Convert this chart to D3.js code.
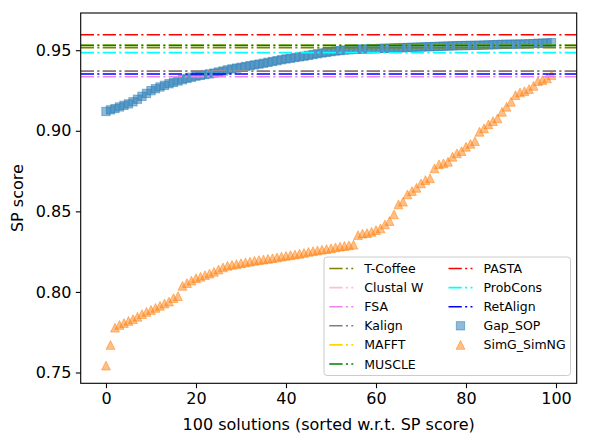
<!DOCTYPE html>
<html>
<head>
<meta charset="utf-8">
<script src="https://cdn.jsdelivr.net/npm/d3@7"></script>
<style>
  html, body { margin: 0; padding: 0; background: #fff; }
  svg { display: block; font-family: "DejaVu Sans", sans-serif; }
</style>
</head>
<body>
<svg id="chart" width="589" height="444"></svg>
<script>
// ---------------- data ----------------
const gapSOP = [
  0.9120, 0.9130, 0.9138, 0.9148, 0.9158, 0.9167, 0.9180, 0.9196, 0.9214, 0.9232,
  0.9249, 0.9261, 0.9272, 0.9282, 0.9292, 0.9300, 0.9309, 0.9317, 0.9325, 0.9332,
  0.9339, 0.9344, 0.9349, 0.9353, 0.9358, 0.9365, 0.9371, 0.9378, 0.9384, 0.9389,
  0.9394, 0.9399, 0.9404, 0.9409, 0.9414, 0.9419, 0.9425, 0.9430, 0.9435, 0.9441,
  0.9446, 0.9450, 0.9455, 0.9459, 0.9463, 0.9468, 0.9473, 0.9478, 0.9483, 0.9487,
  0.9491, 0.9495, 0.9498, 0.9501, 0.9503, 0.9505, 0.9506, 0.9507, 0.9508, 0.9509,
  0.9510, 0.9511, 0.9512, 0.9513, 0.9514, 0.9515, 0.9516, 0.9517, 0.9518, 0.9519,
  0.9520, 0.9521, 0.9522, 0.9523, 0.9524, 0.9525, 0.9526, 0.9527, 0.9528, 0.9529,
  0.9529, 0.9530, 0.9530, 0.9531, 0.9532, 0.9533, 0.9534, 0.9535, 0.9536, 0.9537,
  0.9537, 0.9538, 0.9538, 0.9539, 0.9540, 0.9541, 0.9543, 0.9544, 0.9545, 0.9547
];
const simG = [
  0.7543, 0.7671, 0.7778, 0.7795, 0.7807, 0.7820, 0.7831, 0.7846, 0.7862, 0.7876,
  0.7888, 0.7901, 0.7914, 0.7928, 0.7940, 0.7962, 0.7974, 0.8038, 0.8055, 0.8070,
  0.8085, 0.8094, 0.8104, 0.8114, 0.8125, 0.8139, 0.8152, 0.8162, 0.8168, 0.8172,
  0.8178, 0.8183, 0.8188, 0.8193, 0.8198, 0.8201, 0.8205, 0.8209, 0.8214, 0.8219,
  0.8224, 0.8228, 0.8232, 0.8237, 0.8242, 0.8248, 0.8253, 0.8257, 0.8262, 0.8266,
  0.8271, 0.8276, 0.8281, 0.8285, 0.8289, 0.8293, 0.8352, 0.8362, 0.8365, 0.8373,
  0.8384, 0.8394, 0.8419, 0.8440, 0.8481, 0.8543, 0.8560, 0.8605, 0.8626, 0.8646,
  0.8674, 0.8694, 0.8705, 0.8767, 0.8792, 0.8798, 0.8808, 0.8839, 0.8860, 0.8874,
  0.8901, 0.8919, 0.8936, 0.8994, 0.9015, 0.9040, 0.9060, 0.9077, 0.9118, 0.9149,
  0.9180, 0.9221, 0.9238, 0.9246, 0.9259, 0.9279, 0.9308, 0.9315, 0.9325, 0.9345
];
const toolNames  = ["T-Coffee", "Clustal W", "FSA", "Kalign", "MAFFT", "MUSCLE", "PASTA", "ProbCons", "RetAlign"];
const toolScores = [0.9515, 0.9370, 0.9335, 0.9370, 0.9530, 0.9530, 0.9596, 0.9485, 0.9352];
const toolColors = ["#808000", "#ffc0cb", "#ee82ee", "#808080", "#ffd700", "#008000", "#ff0000", "#00ffff", "#0000ff"];
const seriesNames = ["Gap_SOP", "SimG_SimNG"];
const seriesColors = ["#1f77b4", "#ff7f0e"];
const xTicks = [0, 20, 40, 60, 80, 100];
const yTicks = [0.75, 0.80, 0.85, 0.90, 0.95];
const xLabel = "100 solutions (sorted w.r.t. SP score)";
const yLabel = "SP score";

// ---------------- layout ----------------
const L = 80.7, R = 576.7, T = 13, B = 383.3;
const svg = d3.select("#chart");
const x = d3.scaleLinear().domain([-5.62, 104.6]).range([L, R]);
const y = d3.scaleLinear().domain([0.7433, 0.9731]).range([B, T]);
const dash = "13.3,3.3,2.1,3.3";

svg.append("defs").append("clipPath").attr("id", "plotclip")
  .append("rect").attr("x", L).attr("y", T).attr("width", R - L).attr("height", B - T);

const plot = svg.append("g").attr("clip-path", "url(#plotclip)");

// scatter (drawn beneath lines, as in matplotlib zorder)
const sq = 8.3;
plot.append("g").selectAll("rect").data(gapSOP).join("rect")
  .attr("x", (d, i) => x(i) - sq / 2).attr("y", d => y(d) - sq / 2)
  .attr("width", sq).attr("height", sq)
  .attr("fill", seriesColors[0]).attr("fill-opacity", 0.5)
  .attr("stroke", seriesColors[0]).attr("stroke-opacity", 0.5).attr("stroke-width", 1);

const tri = d3.symbol().type(d3.symbolTriangle).size(42);
function triPath(cx, cy, s) {
  const h = s / 2;
  return `M${cx},${cy - h}L${cx + h},${cy + h}L${cx - h},${cy + h}Z`;
}
plot.append("g").selectAll("path").data(simG).join("path")
  .attr("d", (d, i) => triPath(x(i), y(d), 8.8))
  .attr("fill", seriesColors[1]).attr("fill-opacity", 0.5)
  .attr("stroke", seriesColors[1]).attr("stroke-opacity", 0.5).attr("stroke-width", 1);

// horizontal reference lines
plot.append("g").selectAll("line").data(toolScores).join("line")
  .attr("x1", L).attr("x2", R)
  .attr("y1", d => y(d)).attr("y2", d => y(d))
  .attr("stroke", (d, i) => toolColors[i])
  .attr("stroke-width", 1.6)
  .attr("stroke-dasharray", dash);

// axes
const xAxis = d3.axisBottom(x).tickValues(xTicks).tickSize(4.9).tickPadding(4.5).tickFormat(d3.format("d"));
const yAxis = d3.axisLeft(y).tickValues(yTicks).tickSize(4.9).tickPadding(4.5).tickFormat(d3.format(".2f"));

const gx = svg.append("g").attr("transform", `translate(0,${B})`).call(xAxis);
const gy = svg.append("g").attr("transform", `translate(${L},0)`).call(yAxis);
[gx, gy].forEach(g => {
  g.select(".domain").remove();
  g.selectAll(".tick line").attr("stroke", "#000").attr("stroke-width", 1.1);
  g.selectAll(".tick text").attr("fill", "#000").style("font-size", "16px")
    .style("font-family", "'DejaVu Sans', sans-serif");
});

// spines
svg.append("rect").attr("x", L).attr("y", T).attr("width", R - L).attr("height", B - T)
  .attr("fill", "none").attr("stroke", "#000").attr("stroke-width", 1.1);

// axis labels
svg.append("text").attr("x", (L + R) / 2).attr("y", 430)
  .attr("text-anchor", "middle").style("font-size", "16px").text(xLabel);
svg.append("text").attr("transform", `translate(23,${(T + B) / 2}) rotate(-90)`)
  .attr("text-anchor", "middle").style("font-size", "16px").text(yLabel);

// legend
const lg = svg.append("g");
lg.append("rect").attr("x", 324).attr("y", 257).attr("width", 246.5).attr("height", 118.5)
  .attr("rx", 3).attr("fill", "#fff").attr("fill-opacity", 0.8)
  .attr("stroke", "#cccccc").attr("stroke-width", 1);

const rowY = i => 268.5 + i * 19.1;
const entries = toolNames.map((n, i) => ({ name: n, type: "line", color: toolColors[i] }))
  .concat([{ name: seriesNames[0], type: "square", color: seriesColors[0] },
           { name: seriesNames[1], type: "tri", color: seriesColors[1] }]);
entries.forEach((e, k) => {
  const col = k < 6 ? 0 : 1;
  const row = k < 6 ? k : k - 6;
  const hx = col === 0 ? 329.3 : 448.5;
  const tx = col === 0 ? 364.3 : 483.5;
  const cy = rowY(row);
  if (e.type === "line") {
    lg.append("line").attr("x1", hx).attr("x2", hx + 24).attr("y1", cy).attr("y2", cy)
      .attr("stroke", e.color).attr("stroke-width", 1.6).attr("stroke-dasharray", dash);
  } else if (e.type === "square") {
    lg.append("rect").attr("x", hx + 12 - sq / 2).attr("y", cy - sq / 2).attr("width", sq).attr("height", sq)
      .attr("fill", e.color).attr("fill-opacity", 0.5).attr("stroke", e.color).attr("stroke-opacity", 0.5);
  } else {
    lg.append("path").attr("d", triPath(hx + 12, cy, 8.8))
      .attr("fill", e.color).attr("fill-opacity", 0.5).attr("stroke", e.color).attr("stroke-opacity", 0.5);
  }
  lg.append("text").attr("x", tx).attr("y", cy).attr("dy", "0.36em")
    .style("font-size", "12.5px").text(e.name);
});
</script>
</body>
</html>
